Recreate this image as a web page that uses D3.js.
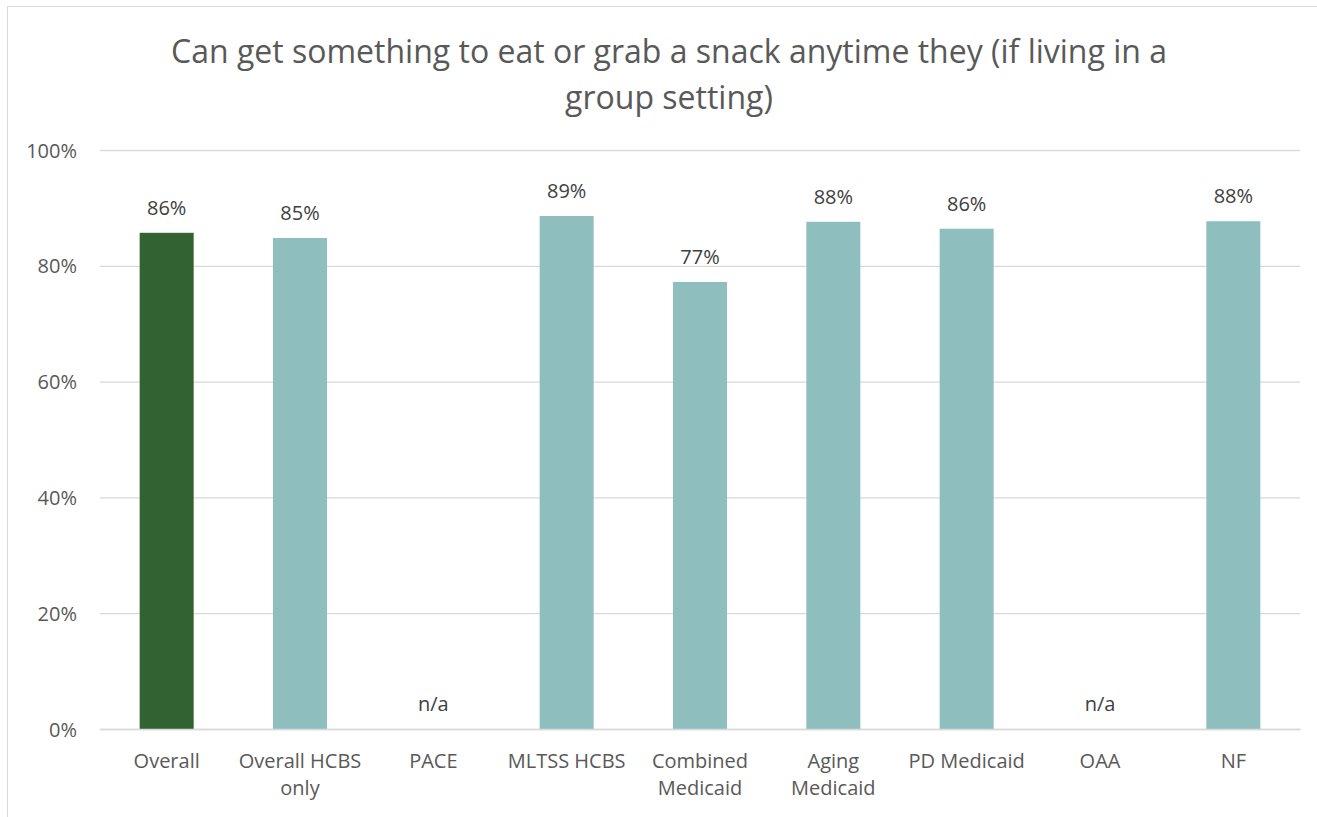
<!DOCTYPE html>
<html><head><meta charset="utf-8">
<script src="https://cdn.jsdelivr.net/npm/d3@7"></script>
<style>body{margin:0;background:#fff}svg{display:block}text{font-family:"Open Sans",sans-serif}</style>
</head><body>
<svg id="c" width="1317" height="817"></svg>
<script>
const titleLines = ["Can get something to eat or grab a snack anytime they (if living in a", "group setting)"];
const categories = ["Overall", "Overall HCBS only", "PACE", "MLTSS HCBS", "Combined Medicaid", "Aging Medicaid", "PD Medicaid", "OAA", "NF"];
const categoryLines = [["Overall"], ["Overall HCBS", "only"], ["PACE"], ["MLTSS HCBS"], ["Combined", "Medicaid"], ["Aging", "Medicaid"], ["PD Medicaid"], ["OAA"], ["NF"]];
const values = [0.857, 0.848, null, 0.886, 0.772, 0.876, 0.864, null, 0.877];
const valueLabels = ["86%", "85%", "n/a", "89%", "77%", "88%", "86%", "n/a", "88%"];
const yTicks = [0, 0.2, 0.4, 0.6, 0.8, 1.0];
const barColors = ["#326232", "#8fbebe", "#8fbebe", "#8fbebe", "#8fbebe", "#8fbebe", "#8fbebe", "#8fbebe", "#8fbebe"];

const svg = d3.select("#c");
svg.append("rect").attr("x", 7.5).attr("y", 6.5).attr("width", 1330).attr("height", 830)
  .attr("fill", "#fff").attr("stroke", "#d9d9d9").attr("stroke-width", 1);

const m = {left: 100, right: 1300, top: 150, bottom: 729};
const x = d3.scaleBand().domain(categories).range([m.left, m.right]).paddingInner(0.595).paddingOuter(0.2975);
const y = d3.scaleLinear().domain([0, 1]).range([m.bottom, m.top]);

// title
const t = svg.append("text").attr("text-anchor", "middle").attr("fill", "#595959").style("font-size", "32px");
titleLines.forEach((l, i) => t.append("tspan").attr("x", 669).attr("y", 63 + i * 46).text(l));

// gridlines
const yAxis = d3.axisLeft(y).tickValues(yTicks).tickFormat(d3.format(".0%")).tickSize(-(m.right - m.left)).tickPadding(23);
const ga = svg.append("g").attr("transform", `translate(${m.left},0)`).call(yAxis);
ga.select(".domain").remove();
ga.selectAll(".tick line").attr("stroke", "#d9d9d9").attr("stroke-width", 1.3);
ga.selectAll(".tick text").attr("fill", "#595959").style("font-size", "20px").attr("dy", "0.35em");

// bars
const idx = categories.map((c, i) => i);
svg.append("g").selectAll("rect").data(idx.filter(i => values[i] != null)).join("rect")
  .attr("x", i => x(categories[i])).attr("width", x.bandwidth())
  .attr("y", i => y(values[i])).attr("height", i => y(0) - y(values[i]))
  .attr("fill", i => barColors[i]);

// value labels
svg.append("g").selectAll("text").data(idx).join("text")
  .attr("x", i => x(categories[i]) + x.bandwidth() / 2)
  .attr("y", i => y(values[i] == null ? 0 : values[i]) - 18)
  .attr("text-anchor", "middle").attr("fill", "#404040").style("font-size", "20px")
  .text(i => valueLabels[i]);

// x axis
const xAxis = d3.axisBottom(x).tickSize(0).tickFormat("");
const gx = svg.append("g").attr("transform", `translate(0,${m.bottom})`).call(xAxis);
gx.select(".domain").attr("stroke", "#d9d9d9").attr("stroke-width", 1.3);
gx.selectAll(".tick").each(function(c) {
  const tx = d3.select(this).append("text").attr("text-anchor", "middle").attr("fill", "#595959").style("font-size", "20px");
  categoryLines[categories.indexOf(c)].forEach((l, j) => tx.append("tspan").attr("x", 0).attr("y", 39 + j * 27).text(l));
});
</script>
</body></html>
